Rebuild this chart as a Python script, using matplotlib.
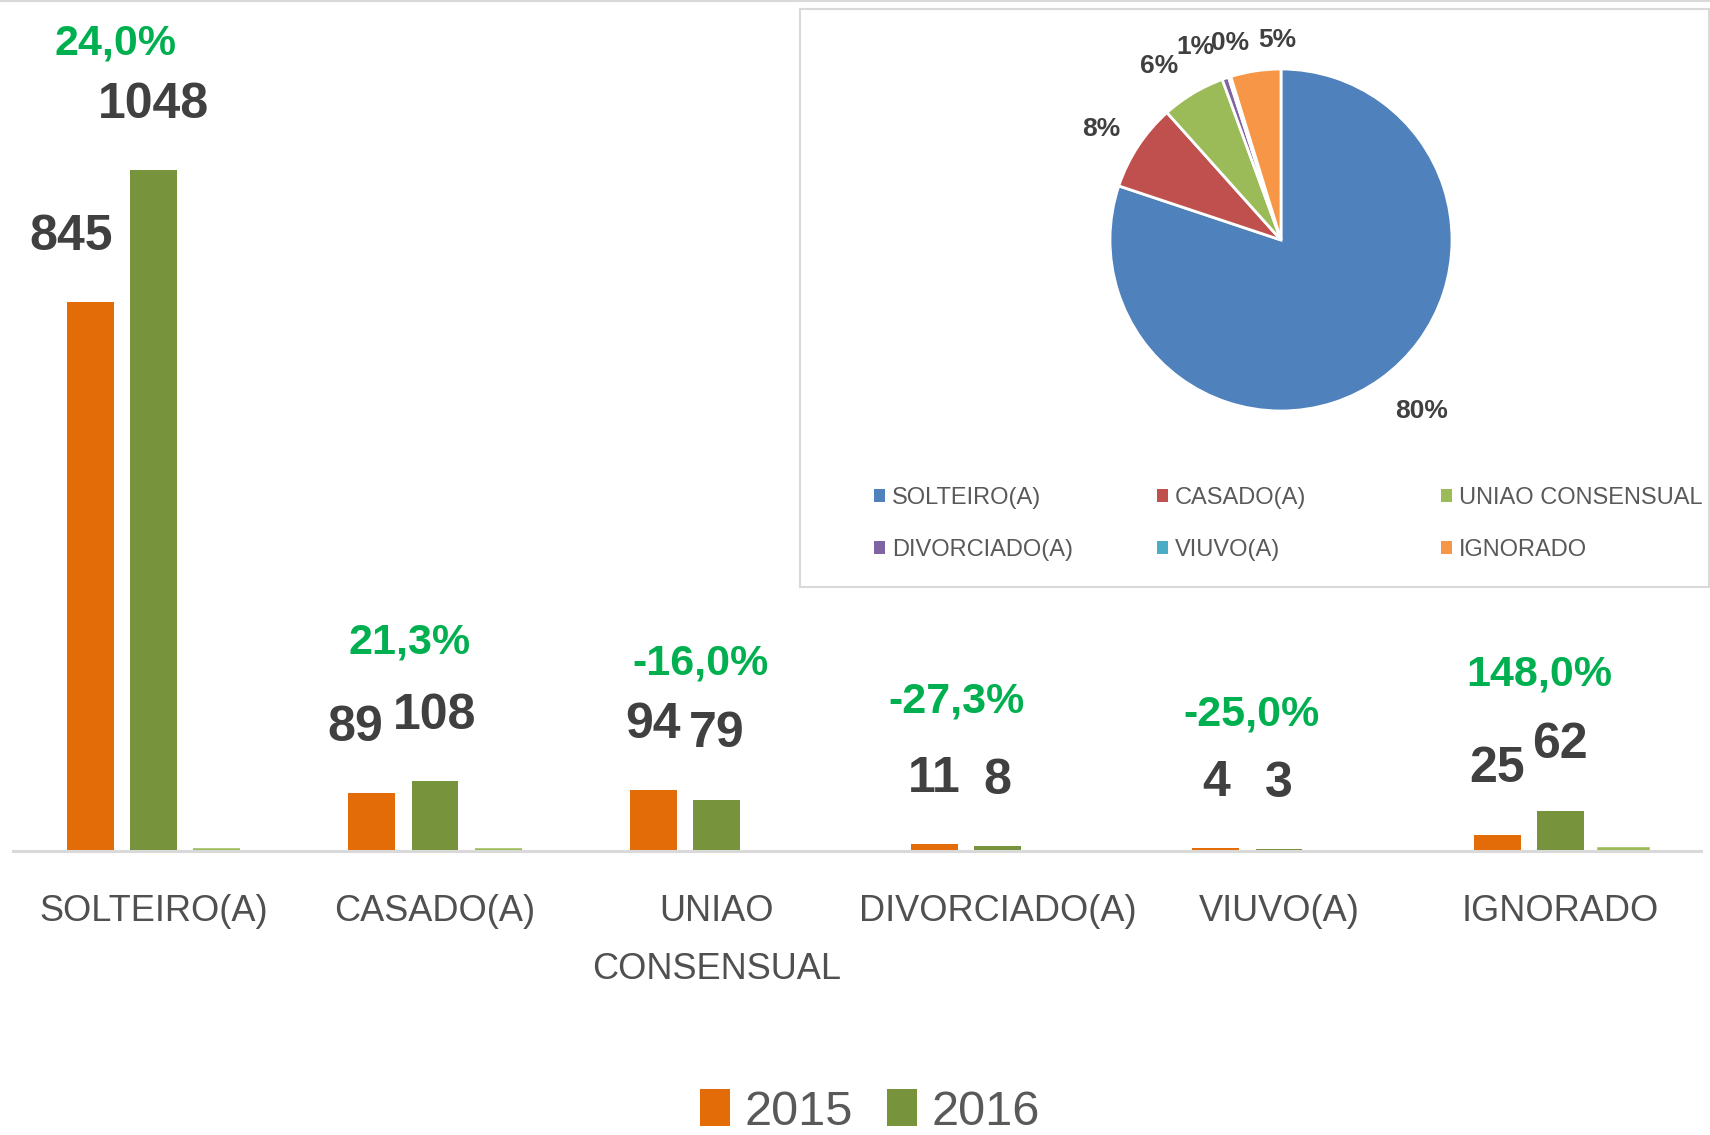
import numpy as np
import matplotlib
matplotlib.use("Agg")
import matplotlib.pyplot as plt
from matplotlib.patches import Rectangle, Patch
from matplotlib.lines import Line2D

plt.rcParams['font.family'] = ['Liberation Sans', 'DejaVu Sans']

# data
categories = ["SOLTEIRO(A)", "CASADO(A)", "UNIAO\nCONSENSUAL", "DIVORCIADO(A)", "VIUVO(A)", "IGNORADO"]
pie_names = ["SOLTEIRO(A)", "CASADO(A)", "UNIAO CONSENSUAL", "DIVORCIADO(A)", "VIUVO(A)", "IGNORADO"]
values_2015 = [845, 89, 94, 11, 4, 25]
values_2016 = [1048, 108, 79, 8, 3, 62]
variation = [24.0, 21.3, -16.0, -27.3, -25.0, 148.0]

# label placement (hand-moved labels in the original)
lbl15_dx = [-0.07, -0.06, 0, 0, 0, 0]
pct_dx = [-0.136, -0.089, -0.058, -0.147, -0.097, -0.074]
pct_dy = [195, 213, 194, 219, 206, 209]
pie_label_pos = [(0.82, -1.00), (-1.05, 0.65), (-0.71, 1.02), (-0.50, 1.13), (-0.30, 1.15), (-0.02, 1.17)]

c2015 = '#E36C09'
c2016 = '#77933C'
cvar = '#9BBB59'
pie_colors = ['#4F81BD', '#C0504D', '#9BBB59', '#8064A2', '#4BACC6', '#F79646']
gray_txt = '#595959'
dark_txt = '#404040'
green_txt = '#00B050'

W, H = 1710, 1135
fig = plt.figure(figsize=(W / 100, H / 100), dpi=100)

# bar chart
ax = fig.add_axes([13 / W, (H - 851) / H, 1688 / W, 851 / H])
x = np.arange(len(categories))
bw, step = 0.167, 0.225
b15 = ax.bar(x - step, values_2015, bw, color=c2015, label='2015')
b16 = ax.bar(x, values_2016, bw, color=c2016, label='2016')
ax.bar(x + step, np.array(variation) / 100, bw, color=cvar,
       edgecolor=[cvar if v > 0 else 'none' for v in variation], linewidth=4)
ax.set_xlim(-0.5, 5.5)
ax.set_ylim(0, 1310)
ax.axhline(0, color='#D9D9D9', lw=2.2, zorder=5, clip_on=False)
for s in ax.spines.values():
    s.set_visible(False)
ax.set_yticks([])
ax.set_xticks(x, categories)
ax.tick_params(axis='x', length=0, pad=31, labelsize=26, labelcolor='#505050')
for t in ax.get_xticklabels():
    t.set_linespacing(1.85)

for i in range(len(categories)):
    ax.annotate(str(values_2015[i]), (x[i] - step + lbl15_dx[i], values_2015[i]), xytext=(0, 47),
                textcoords='offset points', ha='center', va='center',
                fontsize=36, fontweight='bold', color=dark_txt)
    ax.annotate(str(values_2016[i]), (x[i], values_2016[i]), xytext=(0, 47),
                textcoords='offset points', ha='center', va='center',
                fontsize=36, fontweight='bold', color=dark_txt)
    top = max(values_2015[i], values_2016[i])
    ax.text(x[i] + pct_dx[i], top + pct_dy[i], f"{variation[i]:.1f}%".replace('.', ','),
            ha='center', va='center', fontsize=31, fontweight='bold', color=green_txt)

fig.legend(handles=[b15, b16], loc='center', bbox_to_anchor=(870 / W, 1 - 1112 / H),
           ncol=2, frameon=False, fontsize=35, handlelength=0.62, handleheight=0.78,
           handletextpad=0.3, columnspacing=0.7, labelcolor=gray_txt)

# inset box
fig.add_artist(Rectangle((800 / W, 1 - 587 / H), (1709 - 800) / W, (587 - 9) / H,
                         transform=fig.transFigure, fill=False, edgecolor='#D9D9D9', linewidth=1.5))
fig.add_artist(Line2D([0, 1], [1 - 1 / H, 1 - 1 / H], transform=fig.transFigure,
                      color='#D9D9D9', lw=1.5))

# pie
r_px = 171
half = 1.4 * r_px
pax = fig.add_axes([(1281 - half) / W, (H - 240 - half) / H, 2 * half / W, 2 * half / H])
pax.pie(values_2016, colors=pie_colors, startangle=90, counterclock=False, radius=1,
        wedgeprops=dict(edgecolor='white', linewidth=2))
pax.set_xlim(-1.4, 1.4)
pax.set_ylim(-1.4, 1.4)
pax.axis('off')
total = sum(values_2016)
for v, (px, py) in zip(values_2016, pie_label_pos):
    pax.text(px, py, f"{100 * v / total:.0f}%", ha='center', va='center',
             fontsize=19, fontweight='bold', color=dark_txt)

# pie legend, three columns
col_x = [874, 1157, 1441]
for c in range(3):
    hs = [Patch(facecolor=pie_colors[c]), Patch(facecolor=pie_colors[c + 3])]
    fig.legend(handles=hs, labels=[pie_names[c], pie_names[c + 3]], loc='center left',
               bbox_to_anchor=(col_x[c] / W, 1 - 524 / H), frameon=False, fontsize=17,
               handlelength=0.47, handleheight=0.47, handletextpad=0.3, labelspacing=1.25,
               borderpad=0, borderaxespad=0, labelcolor=gray_txt)

fig.savefig('out.png', dpi=100)
